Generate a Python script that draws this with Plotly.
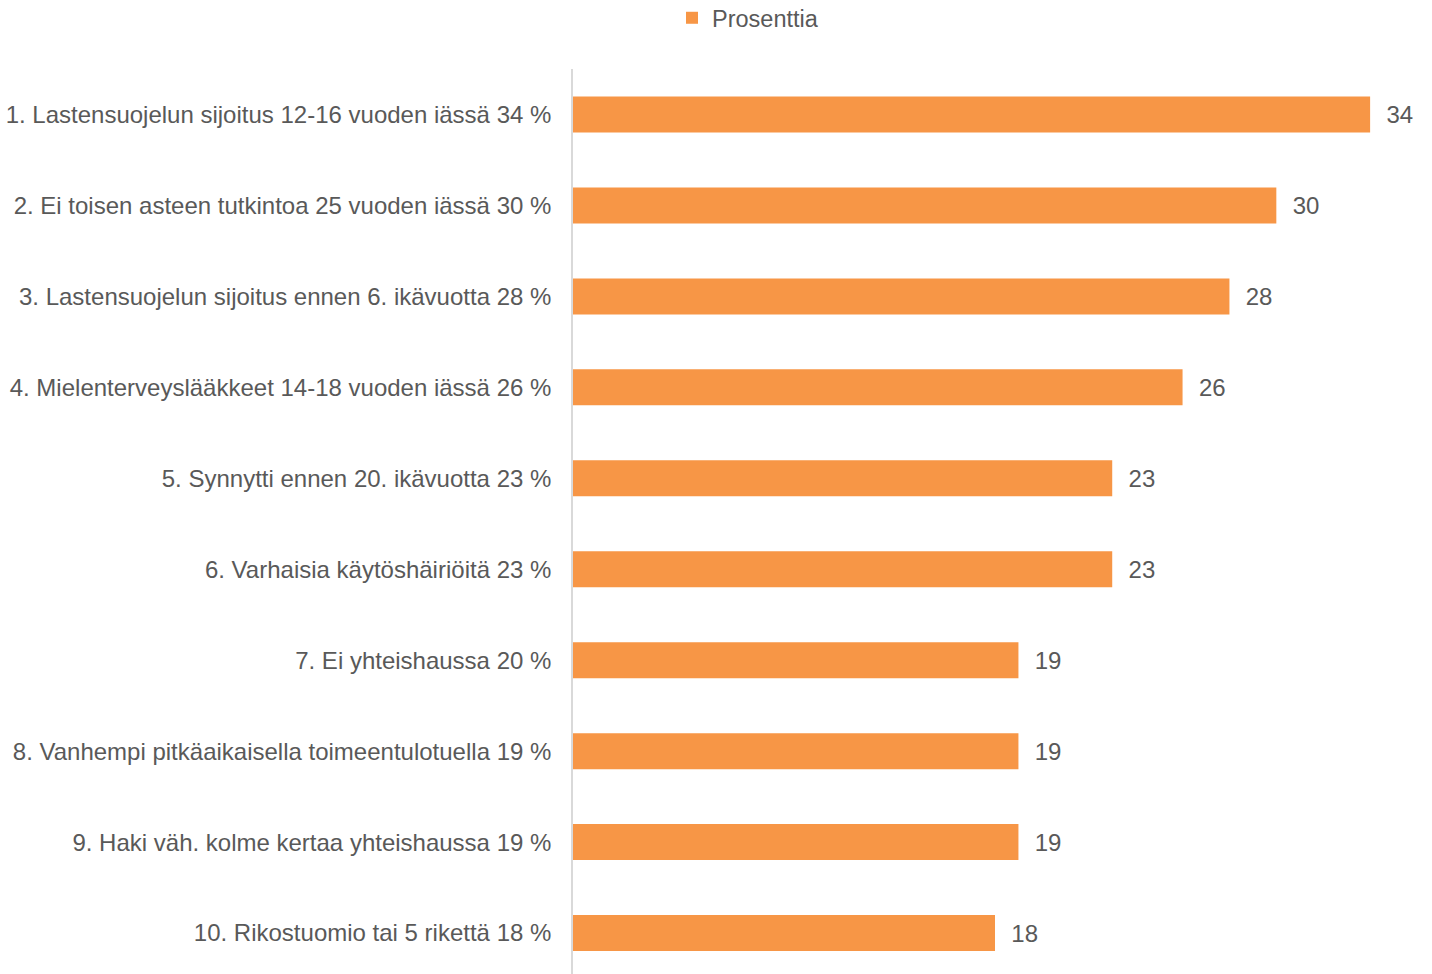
import plotly.graph_objects as go

categories = [
    "1. Lastensuojelun sijoitus 12-16 vuoden iässä 34 %",
    "2. Ei toisen asteen tutkintoa 25 vuoden iässä 30 %",
    "3. Lastensuojelun sijoitus ennen 6. ikävuotta 28 %",
    "4. Mielenterveyslääkkeet 14-18 vuoden iässä 26 %",
    "5. Synnytti ennen 20. ikävuotta 23 %",
    "6. Varhaisia käytöshäiriöitä 23 %",
    "7. Ei yhteishaussa 20 %",
    "8. Vanhempi pitkäaikaisella toimeentulotuella 19 %",
    "9. Haki väh. kolme kertaa yhteishaussa 19 %",
    "10. Rikostuomio tai 5 rikettä 18 %",
]
values = [34, 30, 28, 26, 23, 23, 19, 19, 19, 18]
series_name = "Prosenttia"

BAR_COLOR = "#F79646"
TEXT_COLOR = "#595959"
FONT = "Arial, Liberation Sans, sans-serif"
FS = 24

fig = go.Figure()
fig.add_trace(go.Bar(
    x=values,
    y=categories,
    orientation="h",
    name=series_name,
    marker=dict(color=BAR_COLOR, line=dict(width=0)),
    texttemplate="\u00a0\u00a0%{x}",
    textposition="outside",
    textfont=dict(color=TEXT_COLOR, size=FS, family=FONT),
    cliponaxis=False,
    showlegend=True,
))

fig.update_layout(
    width=1432,
    height=974,
    paper_bgcolor="white",
    plot_bgcolor="white",
    margin=dict(l=573, r=15, t=68.5, b=0, pad=0, autoexpand=False),
    bargap=0.604,
    font=dict(family=FONT, size=FS, color=TEXT_COLOR),
    showlegend=True,
    legend=dict(
        orientation="h",
        xref="container", yref="container",
        x=672 / 1432, xanchor="left",
        y=1 - 18 / 974, yanchor="middle",
        font=dict(size=23.5, color=TEXT_COLOR, family=FONT),
        bgcolor="rgba(0,0,0,0)",
    ),
    xaxis=dict(
        range=[0, 36],
        showgrid=False, zeroline=False, showline=False,
        showticklabels=False, ticks="",
    ),
    yaxis=dict(
        type="category",
        range=[9.45, -0.5],
        showgrid=False, zeroline=False,
        showline=True, linecolor="#D9D9D9", linewidth=1.7,
        ticks="", ticklabelstandoff=15,
        tickfont=dict(size=FS, color=TEXT_COLOR, family=FONT),
    ),
)

fig.write_html(
    "out.html",
    config={"displayModeBar": False},
    post_script="document.body.style.margin='0';document.body.style.overflow='hidden';",
)
